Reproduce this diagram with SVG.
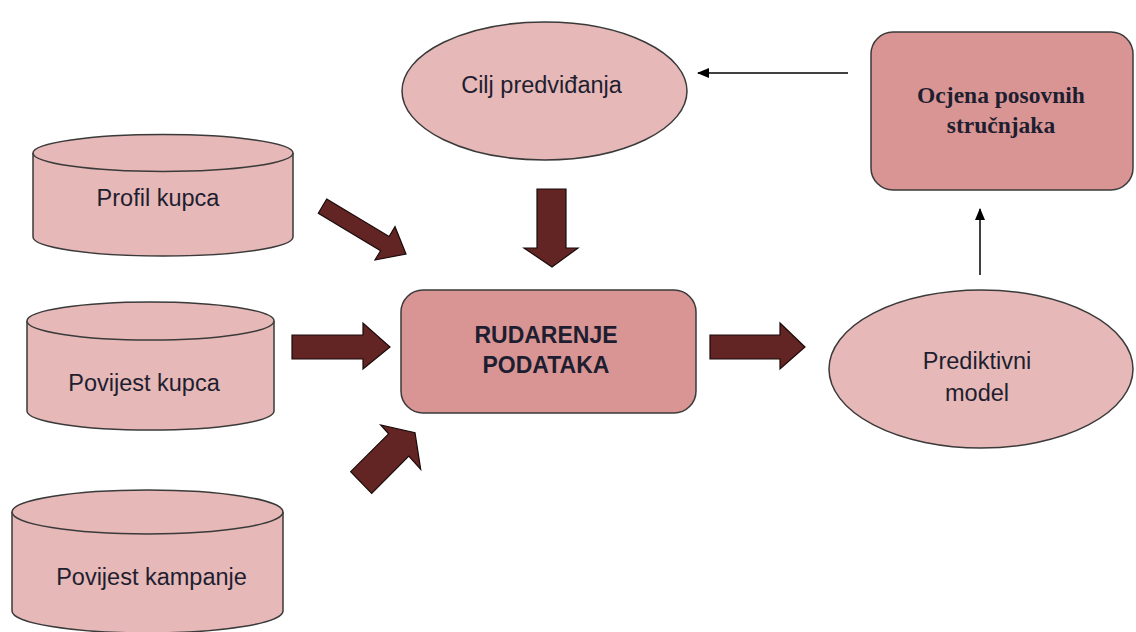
<svg xmlns="http://www.w3.org/2000/svg" width="1136" height="632" viewBox="0 0 1136 632">
<style>
.cyl{fill:#e6b8b7;stroke:#3a3a3a;stroke-width:1.5}
.ell{fill:#e6b8b7;stroke:#3a3a3a;stroke-width:1.5}
.box{fill:#d99594;stroke:#3a3a3a;stroke-width:1.5}
.t{font-family:"Liberation Sans",Arial,sans-serif;font-size:23.5px;fill:#1e1e30;text-anchor:middle}
.tb{font-family:"Liberation Sans",Arial,sans-serif;font-size:23px;font-weight:bold;fill:#1e1e30;text-anchor:middle}
.ts{font-family:"Liberation Serif","Times New Roman",serif;font-size:23.5px;font-weight:bold;fill:#1e1e30;text-anchor:middle}
.blk{fill:#632523;stroke:#1a0a0a;stroke-width:1.2;stroke-linejoin:miter}
.thin{stroke:#000;stroke-width:1.5;fill:none}
</style>
<defs>
<marker id="ah" viewBox="0 0 12 10" refX="11" refY="5" markerWidth="12" markerHeight="10" markerUnits="userSpaceOnUse" orient="auto">
<path d="M0,0 L12,5 L0,10 z" fill="#000"/>
</marker>
</defs>
<rect width="1136" height="632" fill="#fff"/>

<g id="profil-kupca">
<path class="cyl" d="M33,153 L33,237 A130,19 0 0 0 293,237 L293,153"/>
<ellipse class="cyl" cx="163" cy="153" rx="130" ry="18.5"/>
<text class="t" x="158" y="206">Profil kupca</text>
</g>

<g id="povijest-kupca">
<path class="cyl" d="M27,321 L27,411 A123.5,19 0 0 0 274,411 L274,321"/>
<ellipse class="cyl" cx="150.5" cy="321" rx="123.5" ry="19"/>
<text class="t" x="144" y="391">Povijest kupca</text>
</g>

<g id="povijest-kampanje">
<path class="cyl" d="M12,512 L12,611 A135.5,22 0 0 0 283,611 L283,512"/>
<ellipse class="cyl" cx="147.5" cy="512" rx="135.5" ry="22"/>
<text class="t" x="151.5" y="585">Povijest kampanje</text>
</g>

<g id="cilj-predvidanja">
<ellipse class="ell" cx="544.5" cy="91" rx="142.5" ry="69"/>
<text class="t" x="541.5" y="93">Cilj predviđanja</text>
</g>

<g id="rudarenje-podataka">
<rect class="box" x="401" y="290" width="295" height="123" rx="22"/>
<text class="tb" x="546" y="343">RUDARENJE</text>
<text class="tb" x="546" y="373">PODATAKA</text>
</g>

<g id="ocjena">
<rect class="box" x="871" y="32" width="262" height="158" rx="22"/>
<text class="ts" x="1001" y="103">Ocjena posovnih</text>
<text class="ts" x="1001" y="133">stručnjaka</text>
</g>

<g id="prediktivni-model">
<ellipse class="ell" cx="981" cy="369" rx="152" ry="79"/>
<text class="t" x="977" y="369">Prediktivni</text>
<text class="t" x="977" y="401">model</text>
</g>

<g id="connectors">
<polygon class="blk" points="326.7,199 389.1,236.5 395,226.7 406,254 375,260 380.6,250.7 318.3,213.3"/>
<polygon class="blk" points="292,335 363,335 363,323 390,347 363,369 363,359 292,359"/>
<polygon class="blk" points="350.7,471.7 388.6,433.8 380.7,425 415,432.7 420.7,469.3 408.8,456.2 371.7,493.3"/>
<polygon class="blk" points="537,189 566,189 566,248 578,248 552,267 524,248 537,248"/>
<polygon class="blk" points="710,335 780,335 780,323 805,347 780,369 780,359 710,359"/>
<line class="thin" x1="848" y1="73" x2="698" y2="73" marker-end="url(#ah)"/>
<line class="thin" x1="980" y1="275" x2="980" y2="209" marker-end="url(#ah)"/>
</g>
</svg>
